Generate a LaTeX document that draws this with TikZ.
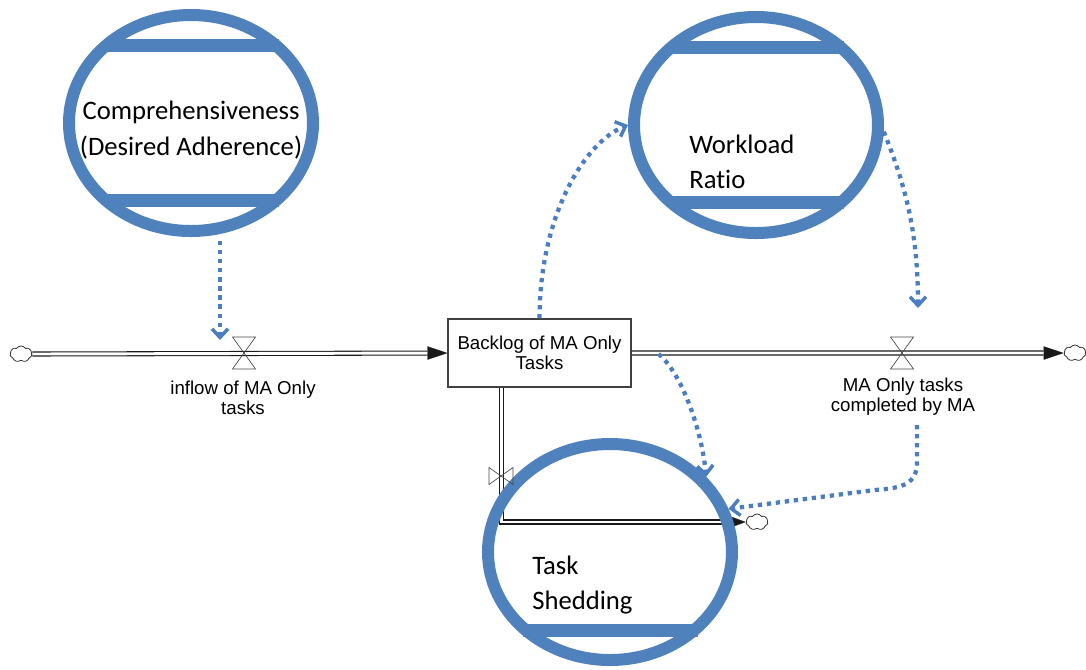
\documentclass[tikz,border=0pt]{standalone}
\usepackage{fontspec}
\setmainfont{Liberation Sans}
\newfontfamily\calfont[Ligatures=NoCommon]{Carlito}
\usetikzlibrary{shapes.geometric,shapes.symbols,arrows.meta,calc}
\definecolor{ringblue}{RGB}{79,129,189}
\definecolor{dotblue}{RGB}{74,126,193}
\definecolor{valvegray}{RGB}{70,70,70}
\pgfdeclarelayer{bg}
\pgfdeclarelayer{fg}
\pgfsetlayers{bg,main,fg}
\tikzset{
  ring/.style={ellipse, draw=ringblue, line width=9pt, minimum width=183pt, minimum height=162pt, inner sep=0pt},
  bigtext/.style={font=\calfont\fontsize{20}{26.5}\selectfont, inner sep=0pt},
  flowlbl/.style={font=\fontsize{14}{15}\selectfont, align=center, inner sep=0pt},
  stock/.style={draw=black!75, line width=0.8pt, fill=white, minimum width=137.25pt, minimum height=51pt, font=\fontsize{14}{15}\selectfont, align=center, inner sep=0pt},
  pipe/.style={draw=black!90, line width=3.8pt, -{Triangle[length=15pt,width=10pt,line width=0.1pt]}, postaction={draw=white, line width=2.2pt, -, shorten >=15pt}},
  smallpipe/.style={draw=black!90, line width=3.8pt, -{Triangle[length=11pt,width=8pt,line width=0.1pt]}, postaction={draw=white, line width=2.2pt, -, shorten >=11pt}},
  cloudnode/.style={cloud, cloud puffs=7, cloud puff arc=110, aspect=1.4, draw=black!80, line width=0.6pt, fill=white, minimum width=16.5pt, minimum height=12pt, inner sep=0pt},
  infl/.style={draw=dotblue, line width=3.2pt, dash pattern=on 3.2pt off 3.6pt, -{Straight Barb[length=6.5pt,width=12pt,line width=2.6pt]}},
  valveV/.pic={\draw[valvegray, line width=0.5pt] (-11.5,-16) -- (11.5,-16) -- (0,0) -- cycle (0,0) -- (-11.5,16) -- (11.5,16) -- cycle;},
  valveH/.pic={\draw[valvegray, line width=0.5pt] (-12,-8.5) -- (-12,8.5) -- (0,0) -- cycle (0,0) -- (12,-8.5) -- (12,8.5) -- cycle;}
}
\begin{document}
\begin{tikzpicture}[x=0.75pt,y=-0.75pt]
\useasboundingbox (0,0) rectangle (1086,669);

% rings
\node[ring] (comp) at (191,123) {};
\node[ring] (wr) at (756,125) {};
\node[ring] (ts) at (610,552) {};
\fill[ringblue] ($(comp.center)+(-87.5,-84.5)$) rectangle ++(175,13);
\fill[ringblue] ($(comp.center)+(-87.5,70.5)$) rectangle ++(175,13);
\fill[ringblue] ($(wr.center)+(-87.5,-84.5)$) rectangle ++(175,13);
\fill[ringblue] ($(wr.center)+(-87.5,70.5)$) rectangle ++(175,13);
\fill[ringblue] ($(ts.center)+(-87.5,71.5)$) rectangle ++(175,13);

% texts in rings
\node[bigtext, align=center] (comptext) at (191,130) {Comprehensiveness\\(Desired Adherence)};
\node[bigtext, align=left, anchor=west] (wrtext) at (689,161.5) {Workload\\Ratio};
\node[bigtext, align=left, anchor=west] (tstext) at (532,585) {Task\\Shedding};

% stock and clouds
\node[stock] (box) at (539.5,353) {Backlog of MA Only\\Tasks};
\node[cloudnode] (cl1) at (21,354) {};
\node[cloudnode] (cl2) at (1075,353) {};
\node[cloudnode] (cl3) at (757,522) {};

% valves
\coordinate (v1) at (244,353);
\coordinate (v2) at (902,353);
\coordinate (v3) at (501,476);

% pipes
\begin{pgfonlayer}{bg}
\draw[pipe] (cl1.east) -- (box.west);
\draw[pipe] (box.east) -- (cl2.west);
\draw[smallpipe] ([xshift=40.5pt]box.south west) |- (cl3.west);
\end{pgfonlayer}

\begin{pgfonlayer}{fg}
\pic at (v1) {valveV};
\pic at (v2) {valveV};
\pic at (v3) {valveH};
\end{pgfonlayer}

% flow labels
\node[flowlbl] (l1) at (243,398) {inflow of MA Only\\tasks};
\node[flowlbl] (l2) at (903,397) {MA Only tasks\\completed by MA};

% information links
\coordinate (a1e) at ($(v1)+(-24,-13)$);
\draw[infl] ([yshift=-3pt]a1e |- comp.south) -- (a1e);
\draw[infl] (box.north) .. controls +(0,-100) and +(-45,18) .. (wr.west);
\draw[infl] (wr.-3) .. controls +(20,50) and +(0,-80) .. ($(v2)+(16,-45)$);
\draw[infl] ($(box.east)+(27,1)$) .. controls +(22,18) and +(-5,-50) .. (ts.38);
\draw[infl] ($(v2)+(15,72)$) -- ++(0,37) .. controls +(0,22) and +(28,-2) .. ++(-42,28) -- (ts.20);
\end{tikzpicture}
\end{document}
